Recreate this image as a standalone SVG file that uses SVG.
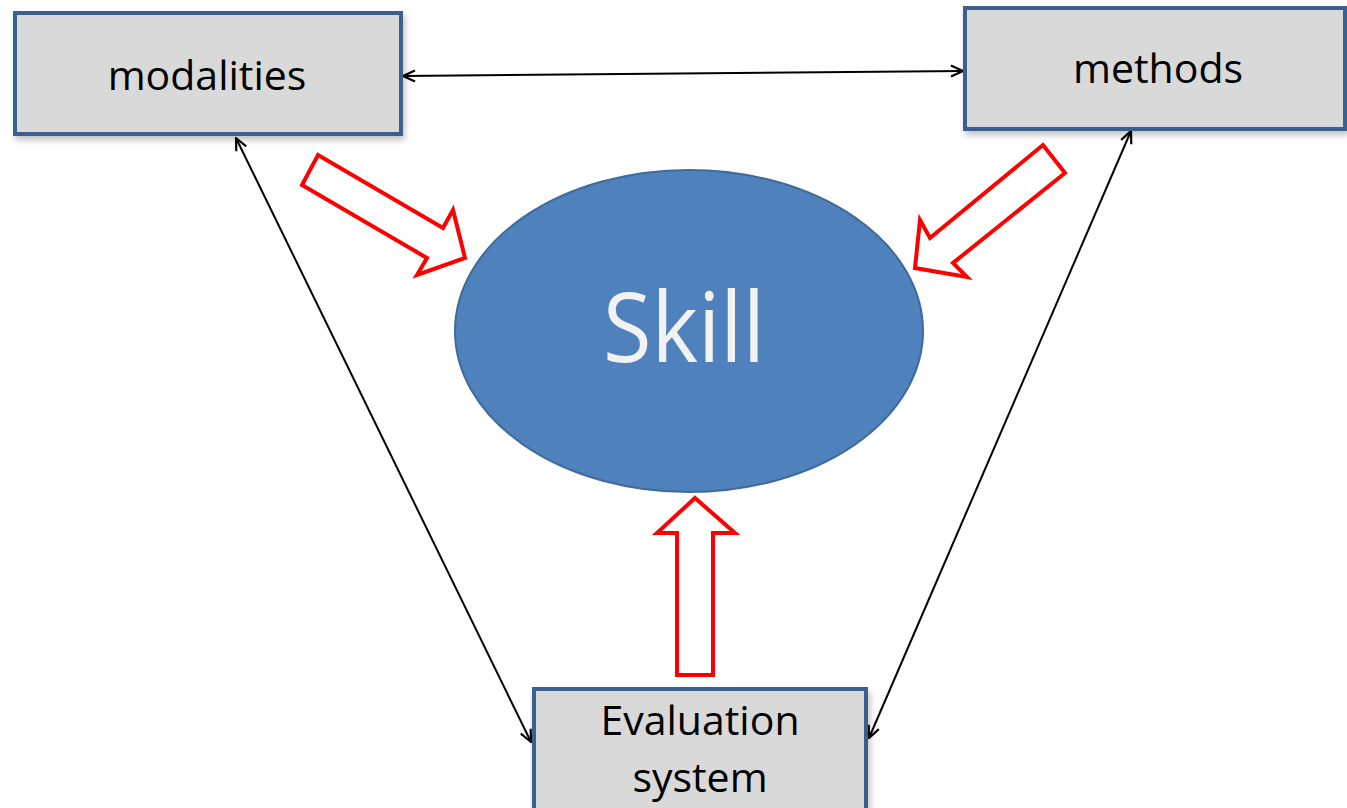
<svg xmlns="http://www.w3.org/2000/svg" width="1347" height="808" viewBox="0 0 1347 808">
  <style>
    .box { fill: #D9D9D9; stroke: #3A5F8E; stroke-width: 4; filter: url(#shadow); }
    .label { font-family: "Open Sans", "Noto Sans", "Liberation Sans", sans-serif; font-size: 41px; fill: #000; text-anchor: middle; }
    .link { fill: none; stroke: #000; stroke-width: 2; marker-start: url(#open); marker-end: url(#open); }
    .block { fill: #FFFFFF; stroke: #FF0000; stroke-width: 4; stroke-linejoin: miter; }
  </style>
  <defs>
    <filter id="shadow" x="-10%" y="-10%" width="130%" height="140%">
      <feGaussianBlur in="SourceAlpha" stdDeviation="3"/>
      <feOffset dx="2" dy="4" result="b"/>
      <feComponentTransfer><feFuncA type="linear" slope="0.25"/></feComponentTransfer>
      <feMerge><feMergeNode/><feMergeNode in="SourceGraphic"/></feMerge>
    </filter>
    <marker id="open" viewBox="0 0 14 14" refX="13" refY="7" markerWidth="14" markerHeight="14" markerUnits="userSpaceOnUse" orient="auto-start-reverse">
      <path d="M1,1.5 L13,7 L1,12.5" fill="none" stroke="#000" stroke-width="2.2"/>
    </marker>
  </defs>

  <rect width="1347" height="808" fill="#FFFFFF"/>

  <!-- black two-way links between the three boxes -->
  <g id="connectors">
    <line class="link" x1="403" y1="76" x2="963" y2="71"/>
    <line class="link" x1="236" y1="138" x2="531" y2="742"/>
    <line class="link" x1="1131" y1="131" x2="869" y2="738"/>
  </g>

  <g id="skill">
    <ellipse cx="689" cy="331" rx="234" ry="161" fill="#4F81BD" stroke="#3F6A99" stroke-width="2"/>
    <text x="684" y="362" font-family="Open Sans, Noto Sans, sans-serif" font-size="97" fill="#F2F2F2" text-anchor="middle" textLength="162" lengthAdjust="spacingAndGlyphs">Skill</text>
  </g>

  <!-- hollow red block arrows pointing at the skill -->
  <g id="arrow-modalities">
    <polygon class="block" points="318,155 443,228 453,210 465,258 417,275 427,258 302,185"/>
  </g>
  <g id="arrow-methods">
    <polygon class="block" points="1043,145 930,238 920,220 915,268 967,277 953,263 1065,173"/>
  </g>
  <g id="arrow-evaluation">
    <polygon class="block" points="695,498 735,533 713,533 713,675 677,675 677,533 657,533"/>
  </g>

  <g id="modalities">
    <rect class="box" x="15" y="13" width="386" height="121"/>
    <text class="label" x="207" y="90">modalities</text>
  </g>
  <g id="methods">
    <rect class="box" x="965" y="8" width="380" height="121"/>
    <text class="label" x="1158" y="83">methods</text>
  </g>
  <g id="evaluation">
    <rect class="box" x="534" y="689" width="332" height="130"/>
    <text class="label" x="700" y="735">Evaluation</text>
    <text class="label" x="700" y="792">system</text>
  </g>
</svg>
